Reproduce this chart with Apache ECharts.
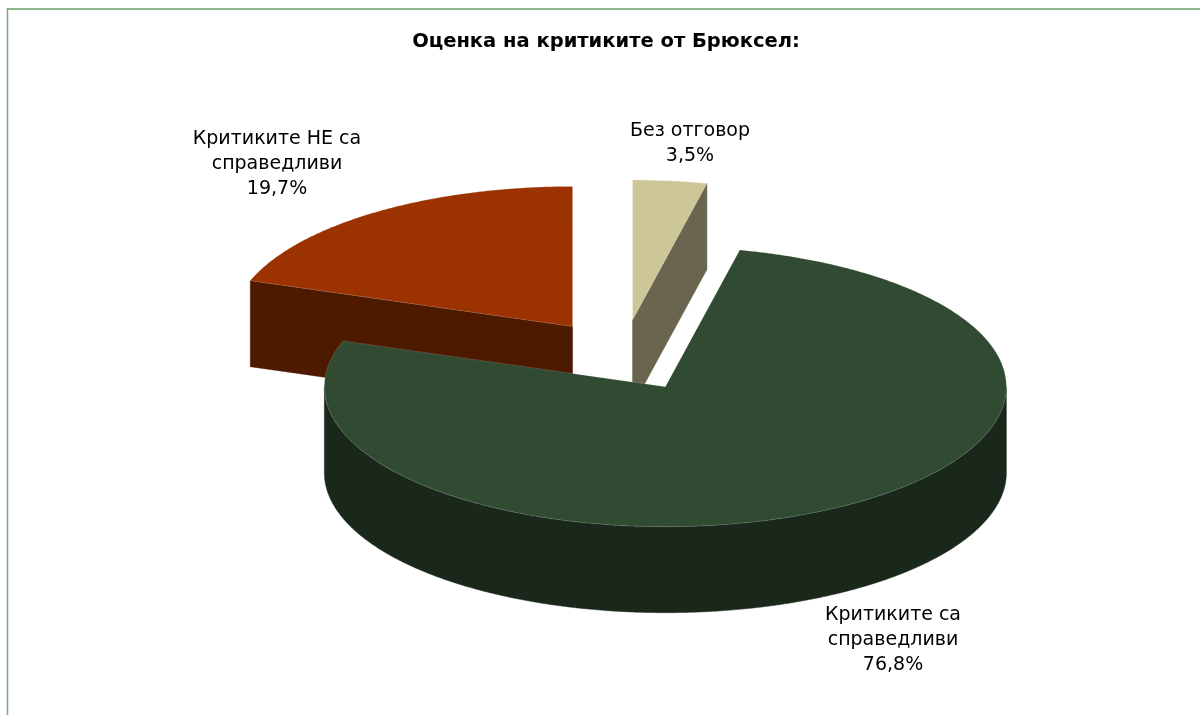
<!DOCTYPE html>
<html>
<head>
<meta charset="utf-8">
<script src="https://cdn.jsdelivr.net/npm/echarts@6/dist/echarts.min.js"></script>
<style>
  html, body { margin: 0; padding: 0; background: #ffffff; }
  #chart { width: 1200px; height: 715px; }
</style>
</head>
<body>
<div id="chart"></div>
<script>
// Survey answers, in pie order (clockwise from 12 o'clock)
const categories = ['Без отговор', 'Критиките са справедливи', 'Критиките НЕ са справедливи'];
const labelLines = [['Без отговор'], ['Критиките са', 'справедливи'], ['Критиките НЕ са', 'справедливи']];
const values = [3.5, 76.8, 19.7];

const topColors = ['#CDC697', '#304B32', '#9C3200'];
const sideColors = ['#69654E', '#1A281C', '#4D1A00'];

// Tilted pie geometry
const pie = { cx: 623, cy: 355.5, rx: 341, ry: 140, depth: 86, explode: 0.255 };
// Label anchor points (centre of each text block)
const labelPos = [[690, 144], [893, 640], [277, 164]];

const DEG = Math.PI / 180;
const total = values.reduce((a, b) => a + b, 0);

function fmtPct(v) {
  return (v / total * 100).toFixed(1).replace('.', ',') + '%';
}

// angles measured clockwise from the top
const slices = [];
let acc = 0;
values.forEach((v, i) => {
  const a0 = acc / total * 360;
  acc += v;
  const a1 = acc / total * 360;
  const mid = (a0 + a1) / 2;
  const ox = pie.explode * pie.rx * Math.sin(mid * DEG);
  const oy = -pie.explode * pie.ry * Math.cos(mid * DEG);
  slices.push({ i, a0, a1, mid, cx: pie.cx + ox, cy: pie.cy + oy });
});
// paint back slices first
const order = slices.slice().sort((p, q) => Math.cos(q.mid * DEG) - Math.cos(p.mid * DEG)).map(s => s.i);
const rank = {};
order.forEach((idx, r) => { rank[idx] = r; });

function pt(s, a, dy) {
  return [s.cx + pie.rx * Math.sin(a * DEG), s.cy - pie.ry * Math.cos(a * DEG) + (dy || 0)];
}
function arc(s, from, to, dy) {
  const pts = [];
  const n = Math.max(2, Math.ceil(Math.abs(to - from) / 0.5));
  for (let k = 0; k <= n; k++) pts.push(pt(s, from + (to - from) * k / n, dy));
  return pts;
}

function renderItem(params, api) {
  const idx = params.dataIndex;
  const s = slices[idx];
  const d = pie.depth;
  const base = rank[idx] * 10;
  const side = sideColors[idx];
  const children = [];

  // radial cut faces that face the viewer
  const faceEdge = (a) => {
    const p = pt(s, a, 0);
    children.push({
      type: 'polygon', z2: base + 1,
      shape: { points: [[s.cx, s.cy], p, [p[0], p[1] + d], [s.cx, s.cy + d]] },
      style: { fill: side, stroke: side, lineWidth: 0.5 }
    });
  };
  if (Math.sin(s.a0 * DEG) < -1e-6) faceEdge(s.a0);
  if (Math.sin(s.a1 * DEG) > 1e-6) faceEdge(s.a1);

  // outer wall on the front half of the ellipse
  const w0 = Math.max(s.a0, 90), w1 = Math.min(s.a1, 270);
  if (w1 > w0) {
    const topArc = arc(s, w0, w1, 0);
    const botArc = arc(s, w1, w0, d);
    children.push({
      type: 'polygon', z2: base + 2,
      shape: { points: topArc.concat(botArc) },
      style: { fill: side, stroke: side, lineWidth: 0.5 }
    });
  }

  // top face
  children.push({
    type: 'polygon', z2: base + 3,
    shape: { points: [[s.cx, s.cy]].concat(arc(s, s.a0, s.a1, 0)) },
    style: { fill: topColors[idx], stroke: 'rgba(255,255,255,0.18)', lineWidth: 0.8 }
  });

  // data label
  children.push({
    type: 'text', z2: 100,
    style: {
      text: labelLines[idx].concat([fmtPct(api.value(0))]).join('\n'),
      x: labelPos[idx][0], y: labelPos[idx][1],
      align: 'center', verticalAlign: 'middle',
      font: '19px "DejaVu Sans", Verdana, sans-serif',
      lineHeight: 25, fill: '#000000'
    }
  });

  return { type: 'group', children };
}

const chart = echarts.init(document.getElementById('chart'), null, { renderer: 'canvas' });
chart.setOption({
  animation: false,
  backgroundColor: '#ffffff',
  graphic: [
    { type: 'line', shape: { x1: 7, y1: 9, x2: 1200, y2: 9 }, style: { stroke: '#8DB78D', lineWidth: 2.2 } },
    { type: 'line', shape: { x1: 7.5, y1: 8, x2: 7.5, y2: 715 }, style: { stroke: '#78A878', lineWidth: 1.5 } },
    {
      type: 'text', x: 606, y: 42,
      style: {
        text: 'Оценка на критиките от Брюксел:',
        align: 'center', verticalAlign: 'middle',
        font: 'bold 19.5px "DejaVu Sans", Verdana, sans-serif', fill: '#000000'
      }
    }
  ],
  series: [{
    type: 'custom',
    coordinateSystem: 'none',
    renderItem,
    data: values.map((v, i) => ({ name: categories[i], value: [v] }))
  }]
});
</script>
</body>
</html>
